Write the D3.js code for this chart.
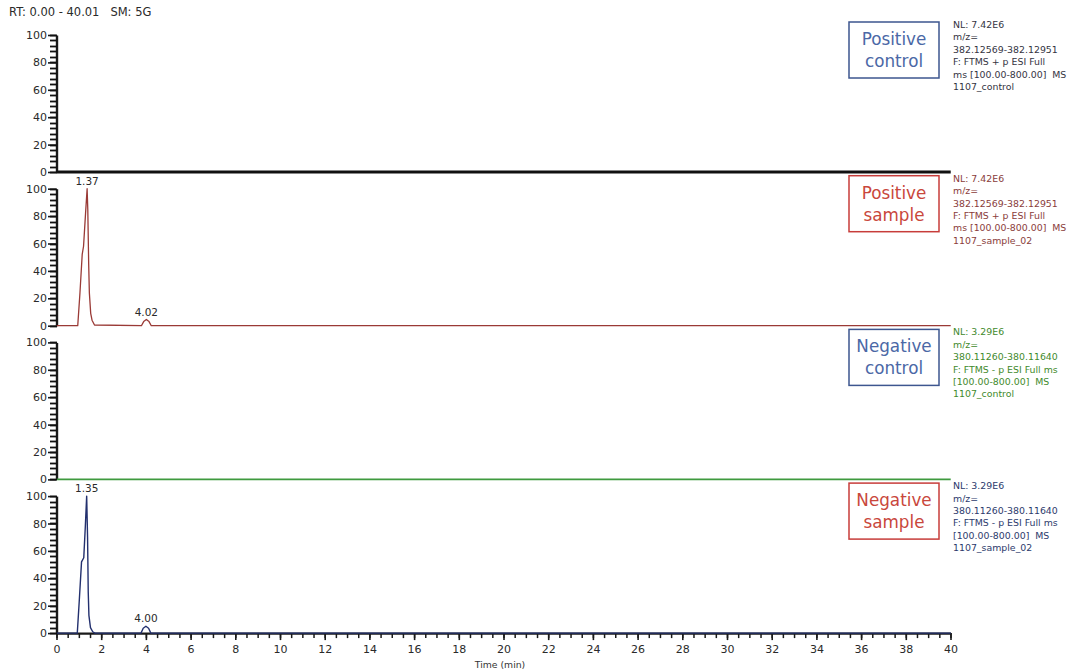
<!DOCTYPE html>
<html>
<head>
<meta charset="utf-8">
<script src="https://cdn.jsdelivr.net/npm/d3@7"></script>
<style>
  html, body { margin: 0; padding: 0; background: #fff; }
  svg { display: block; }
  text { font-family: "DejaVu Sans", "Liberation Sans", Arial, sans-serif; }
</style>
</head>
<body>
<svg id="chart" width="1077" height="672"></svg>
<script>
// ---- chromatogram data (time in min, relative abundance in %) ----
const posControlTime = [0.00, 40.01];
const posControlInt  = [0, 0];

const posSampleTime = [0.00, 0.95, 1.05, 1.15, 1.21, 1.30, 1.37, 1.40, 1.44, 1.47, 1.53, 1.59, 1.70, 3.80, 3.90, 4.02, 4.14, 4.24, 40.01];
const posSampleInt  = [0, 0, 24, 52, 58, 82, 100, 85, 45, 24, 9, 4, 0.5, 0, 3, 4.5, 3, 0, 0];

const negControlTime = [0.00, 40.01];
const negControlInt  = [0, 0];

const negSampleTime = [0.00, 0.93, 1.02, 1.12, 1.22, 1.29, 1.35, 1.39, 1.42, 1.45, 1.52, 1.62, 1.72, 3.78, 3.88, 4.00, 4.12, 4.22, 40.01];
const negSampleInt  = [0, 0, 24, 52, 55, 78, 100, 70, 30, 13, 4, 1, 0, 0, 3.5, 5, 3.5, 0, 0];

// labelled peak apexes
const posSamplePeakTimes = [1.37, 4.02];
const posSamplePeakVals  = [100, 4.5];
const negSamplePeakTimes = [1.35, 4.00];
const negSamplePeakVals  = [100, 5];

// axis ticks
const yMajorTicks = [0, 20, 40, 60, 80, 100];
const yMinorTicks = d3.range(0, 101, 4);
const xMajorTicks = d3.range(0, 41, 2);
const xMinorTicks = d3.range(0, 40.01, 0.5);

// panel annotations
const boxLine1 = ["Positive", "Positive", "Negative", "Negative"];
const boxLine2 = ["control", "sample", "control", "sample"];
const infoPosControl = ["NL: 7.42E6", "m/z=", "382.12569-382.12951", "F: FTMS + p ESI Full", "ms [100.00-800.00]  MS", "1107_control"];
const infoPosSample  = ["NL: 7.42E6", "m/z=", "382.12569-382.12951", "F: FTMS + p ESI Full", "ms [100.00-800.00]  MS", "1107_sample_02"];
const infoNegControl = ["NL: 3.29E6", "m/z=", "380.11260-380.11640", "F: FTMS - p ESI Full ms", "[100.00-800.00]  MS", "1107_control"];
const infoNegSample  = ["NL: 3.29E6", "m/z=", "380.11260-380.11640", "F: FTMS - p ESI Full ms", "[100.00-800.00]  MS", "1107_sample_02"];
const headerText = "RT: 0.00 - 40.01   SM: 5G";
const xTitle = "Time (min)";

// ---- layout ----
const svg = d3.select("#chart");
svg.append("rect").attr("width", 1077).attr("height", 672).attr("fill", "#fff");

const axisX = 56.5;
const x = d3.scaleLinear().domain([0, 40]).range([axisX, 950.5]);
const firstBase = 172, pitch = 153.7, panelH = 137;

const panels = [
  { time: posControlTime, val: posControlInt, color: "#111", width: 3,
    info: infoPosControl, infoColor: "#34343f", boxColor: "#3d568f", boxText: "#4b68a6", peaksT: [], peaksV: [] },
  { time: posSampleTime, val: posSampleInt, color: "#9a3a36", width: 1.3,
    info: infoPosSample, infoColor: "#8a3c3a", boxColor: "#c73c3a", boxText: "#c9473c", peaksT: posSamplePeakTimes, peaksV: posSamplePeakVals },
  { time: negControlTime, val: negControlInt, color: "#3f9a3f", width: 1.6,
    info: infoNegControl, infoColor: "#3f8a2c", boxColor: "#3d568f", boxText: "#4b68a6", peaksT: [], peaksV: [] },
  { time: negSampleTime, val: negSampleInt, color: "#23306e", width: 1.4,
    info: infoNegSample, infoColor: "#2c3a6c", boxColor: "#c73c3a", boxText: "#c9473c", peaksT: negSamplePeakTimes, peaksV: negSamplePeakVals }
];

// one y scale per panel
const yScales = panels.map((p, i) => {
  const base = firstBase + i * pitch;
  return d3.scaleLinear().domain([0, 100]).range([base, base - panelH]);
});

// header
svg.append("text").attr("x", 9).attr("y", 16)
  .attr("font-size", 11.5).attr("fill", "#2a2a2a")
  .style("white-space", "pre").text(headerText);

panels.forEach((p, i) => {
  const y = yScales[i];
  const base = y(0);
  const g = svg.append("g");

  // y axis line, major ticks and labels
  const yMajor = g.append("g").attr("transform", `translate(${axisX},0)`)
    .call(d3.axisLeft(y).tickValues(yMajorTicks).tickSize(8.5).tickSizeOuter(0).tickPadding(1));
  yMajor.select(".domain").attr("stroke", "#1a1a1a").attr("stroke-width", 2.4);
  yMajor.selectAll(".tick line").attr("stroke", "#1a1a1a").attr("stroke-width", 1.6);
  yMajor.selectAll("text").attr("font-size", 11).attr("fill", "#2a2a2a")
    .attr("font-family", "'DejaVu Sans', sans-serif");

  // bottom time axis on the last panel
  if (i === panels.length - 1) {
    const xMinor = g.append("g").attr("transform", `translate(0,${base})`)
      .call(d3.axisBottom(x).tickValues(xMinorTicks).tickSize(5).tickSizeOuter(0).tickFormat(""));
    xMinor.select(".domain").remove();
    xMinor.selectAll(".tick line").attr("stroke", "#1a1a1a").attr("stroke-width", 1.5);
    const xMajor = g.append("g").attr("transform", `translate(0,${base})`)
      .call(d3.axisBottom(x).tickValues(xMajorTicks).tickSize(7).tickSizeOuter(0).tickPadding(5).tickFormat(d3.format("d")));
    xMajor.select(".domain").attr("stroke", "#1a1a1a").attr("stroke-width", 2.2);
    xMajor.selectAll(".tick line").attr("stroke", "#1a1a1a").attr("stroke-width", 1.6);
    xMajor.selectAll("text").attr("font-size", 11).attr("fill", "#2a2a2a")
      .attr("font-family", "'DejaVu Sans', sans-serif");
    svg.append("text").attr("x", 500).attr("y", 668).attr("text-anchor", "middle")
      .attr("font-size", 9.3).attr("fill", "#333").text(xTitle);
  }

  // trace
  const pts = p.time.map((t, k) => [t, p.val[k]]);
  g.append("path").datum(pts)
    .attr("fill", "none").attr("stroke", p.color).attr("stroke-width", p.width)
    .attr("stroke-linejoin", "round")
    .attr("d", d3.line().x(d => x(d[0])).y(d => y(d[1])));

  // peak apex labels
  p.peaksT.forEach((t, k) => {
    g.append("text").attr("x", x(t)).attr("y", y(p.peaksV[k]) - 4)
      .attr("text-anchor", "middle").attr("font-size", 10.5).attr("fill", "#2a2a2a")
      .text(t.toFixed(2));
  });

  // sample label box
  const bx = 849, bw = 90, bh = 56, by = base - 150;
  g.append("rect").attr("x", bx).attr("y", by).attr("width", bw).attr("height", bh)
    .attr("fill", "none").attr("stroke", p.boxColor).attr("stroke-width", 1.5);
  g.append("text").attr("x", bx + bw / 2).attr("y", by + 23)
    .attr("text-anchor", "middle").attr("font-size", 16.8).attr("fill", p.boxText)
    .attr("font-family", "'Liberation Sans', Arial, sans-serif").text(boxLine1[i]);
  g.append("text").attr("x", bx + bw / 2).attr("y", by + 45)
    .attr("text-anchor", "middle").attr("font-size", 16.8).attr("fill", p.boxText)
    .attr("font-family", "'Liberation Sans', Arial, sans-serif").text(boxLine2[i]);

  // scan information
  p.info.forEach((line, k) => {
    g.append("text").attr("x", 953).attr("y", base - 144 + k * 12.4)
      .attr("font-size", 9.4).attr("fill", p.infoColor)
      .style("white-space", "pre").text(line);
  });
});

// y axis minor ticks (every 4 %) for all panels, drawn on top
const minorPairs = [];
yScales.forEach(y => yMinorTicks.forEach(v => minorPairs.push(y(v))));
svg.append("g").attr("class", "y-minor-ticks")
  .selectAll("line").data(minorPairs).join("line")
  .attr("x1", axisX - 6.5).attr("x2", axisX + 0.5)
  .attr("y1", d => Math.round(d) + 0.5).attr("y2", d => Math.round(d) + 0.5)
  .attr("stroke", "#111").attr("stroke-width", 1.8);
</script>
</body>
</html>
